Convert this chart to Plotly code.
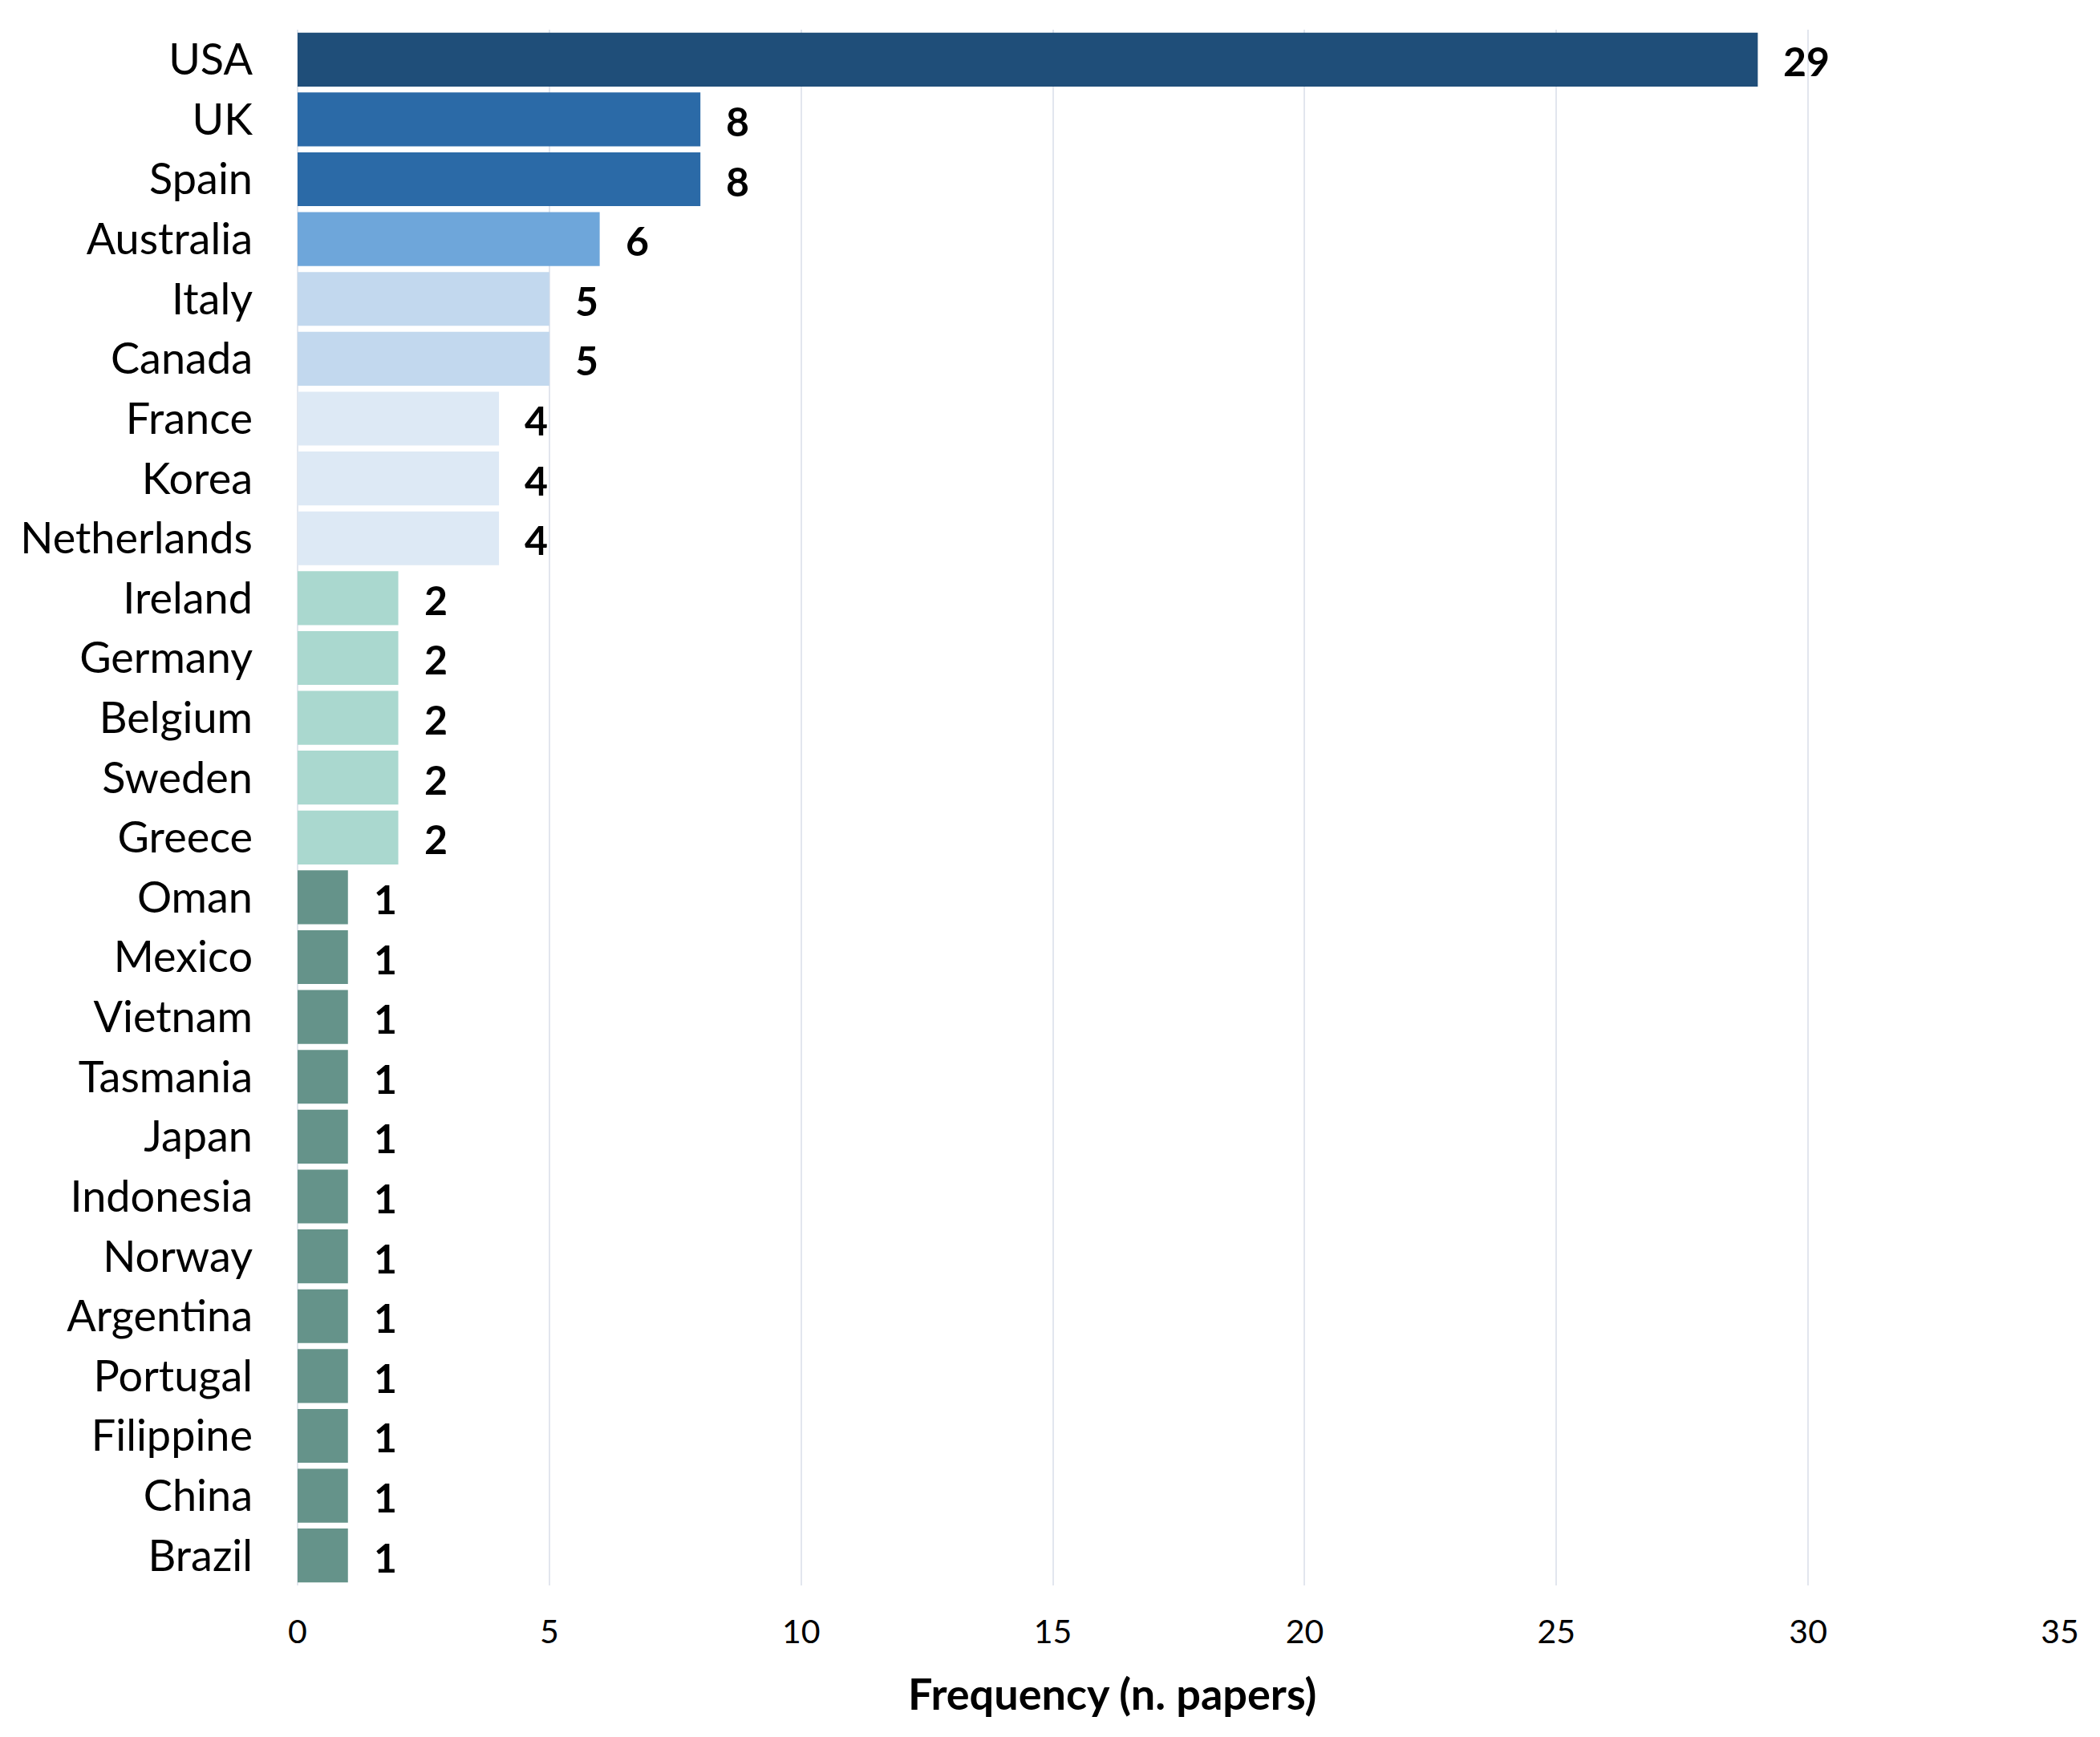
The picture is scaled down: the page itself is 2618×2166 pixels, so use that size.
import plotly.graph_objects as go

countries = ["USA", "UK", "Spain", "Australia", "Italy", "Canada", "France", "Korea",
             "Netherlands", "Ireland", "Germany", "Belgium", "Sweden", "Greece", "Oman",
             "Mexico", "Vietnam", "Tasmania", "Japan", "Indonesia", "Norway", "Argentina",
             "Portugal", "Filippine", "China", "Brazil"]
papers = [29, 8, 8, 6, 5, 5, 4, 4, 4, 2, 2, 2, 2, 2, 1, 1, 1, 1, 1, 1, 1, 1, 1, 1, 1, 1]
color_by_value = {29: "#1f4e79", 8: "#2b6aa7", 6: "#6ea6da", 5: "#c2d8ee",
                  4: "#dde9f5", 2: "#aad8cf", 1: "#65938a"}
x_ticks = [0, 5, 10, 15, 20, 25, 30, 35]
x_title = "Frequency (n. papers)"

colors = [color_by_value[v] for v in papers]

fig = go.Figure()
fig.add_trace(go.Bar(
    x=papers, y=countries, orientation="h",
    marker=dict(color=colors, line=dict(width=0)),
    hoverinfo="x+y",
))

for c, v in zip(countries, papers):
    fig.add_annotation(x=v, y=c, text=str(v), showarrow=False, xanchor="left",
                       xshift=30, yshift=-2,
                       font=dict(family="Lato", size=50, color="#000000", weight="bold"))

fig.add_annotation(xref="paper", yref="paper", x=0.462, y=0, yshift=-100,
                   xanchor="center", yanchor="top", showarrow=False,
                   text="<b>" + x_title + "</b>",
                   font=dict(family="Lato", size=54, color="#000000"))

fig.update_layout(
    width=2602, height=2150,
    margin=dict(l=363, r=42, t=29, b=181),
    paper_bgcolor="white", plot_bgcolor="white",
    bargap=0.1,
    showlegend=False,
    font=dict(family="Lato", color="#000000"),
)
fig.update_xaxes(
    range=[0, 35], tickvals=x_ticks, ticktext=[str(t) for t in x_ticks],
    showgrid=True, gridcolor="#e2e6ee", gridwidth=2,
    zeroline=True, zerolinecolor="#e2e6ee", zerolinewidth=2,
    showline=False, ticks="",
    tickfont=dict(family="Lato", size=41, color="#000000"),
    ticklabelstandoff=30,
)
fig.update_yaxes(
    autorange="reversed", showgrid=False, showline=False, ticks="",
    tickfont=dict(family="Lato", size=54, color="#000000"),
    ticklabelstandoff=55,
)

fig.write_html("out.html")
